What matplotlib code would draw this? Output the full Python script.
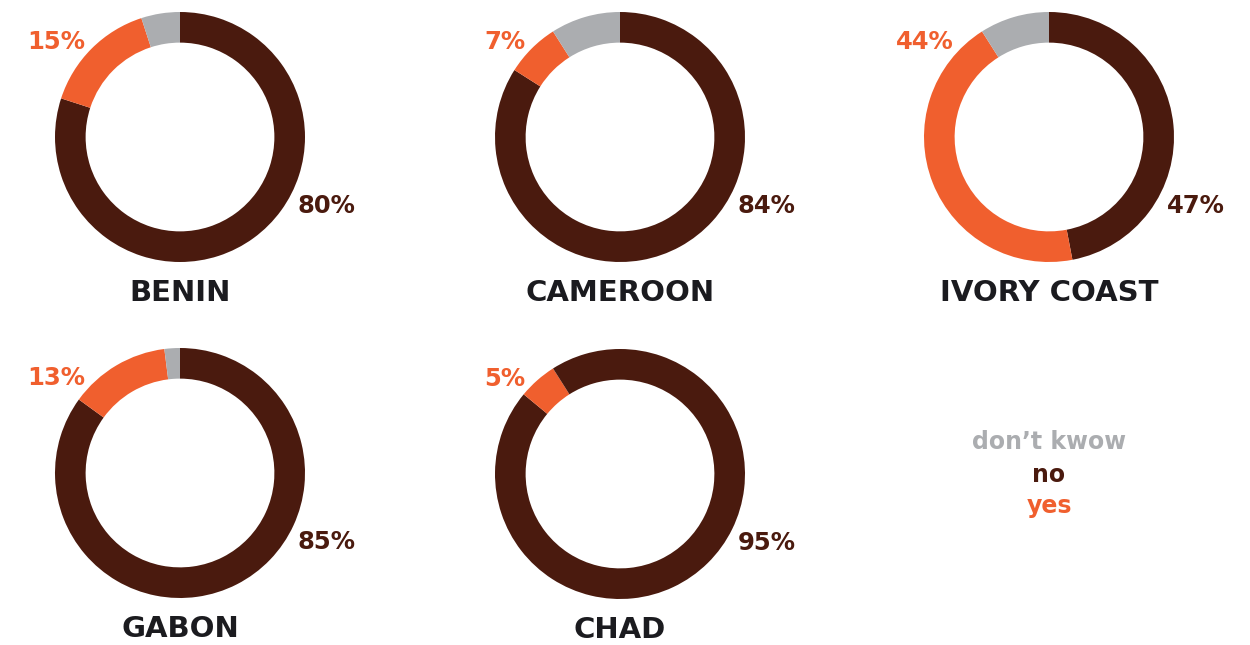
import matplotlib
matplotlib.use("Agg")
import matplotlib.pyplot as plt

# survey answers per country (percent)
countries = ["BENIN", "CAMEROON", "IVORY COAST", "GABON", "CHAD"]
no_share = [80, 84, 47, 85, 86]
yes_share = [15, 7, 44, 13, 5]
dont_know_share = [5, 9, 9, 2, 9]
no_labels = ["80%", "84%", "47%", "85%", "95%"]
yes_labels = ["15%", "7%", "44%", "13%", "5%"]

BROWN = "#4a1a0e"
ORANGE = "#f05f2e"
GREY = "#abadb0"
INK = "#1b1b1f"
# Chad's remainder is drawn in the "no" colour in the original
dk_colors = [GREY, GREY, GREY, GREY, BROWN]

W, H = 1250, 645
centers = [(180, 137), (620, 137), (1049, 137), (180, 473), (620, 474)]
R_PX = 125
LIM = 1.04

plt.rcParams["font.family"] = ["DejaVu Sans"]
fig = plt.figure(figsize=(W / 100, H / 100), dpi=100)

for i, name in enumerate(countries):
    cx, cy = centers[i]
    size = 2 * LIM * R_PX
    ax = fig.add_axes([(cx - size / 2) / W, 1 - (cy + size / 2) / H, size / W, size / H])
    ax.pie(
        [no_share[i], yes_share[i], dont_know_share[i]],
        colors=[BROWN, ORANGE, dk_colors[i]],
        startangle=90,
        counterclock=False,
        radius=1,
        wedgeprops=dict(width=0.245, edgecolor="none"),
    )
    ax.set_xlim(-LIM, LIM)
    ax.set_ylim(-LIM, LIM)
    ax.set_aspect("equal")
    ax.axis("off")

    ax.text(0.94, -0.55, no_labels[i], color=BROWN, fontsize=17.5, fontweight="bold",
            ha="left", va="center", clip_on=False)
    ax.text(-0.76, 0.76, yes_labels[i], color=ORANGE, fontsize=17.5, fontweight="bold",
            ha="right", va="center", clip_on=False)
    ax.text(0, -1.25, name, color=INK, fontsize=21, fontweight="bold",
            ha="center", va="center", clip_on=False)

legend_items = [("don\u2019t kwow", GREY, 442), ("no", BROWN, 475), ("yes", ORANGE, 506)]
for text, color, y in legend_items:
    fig.text(1049 / W, 1 - y / H, text, color=color, fontsize=17, fontweight="bold",
             ha="center", va="center")

fig.savefig("out.png", dpi=100, facecolor="white")
